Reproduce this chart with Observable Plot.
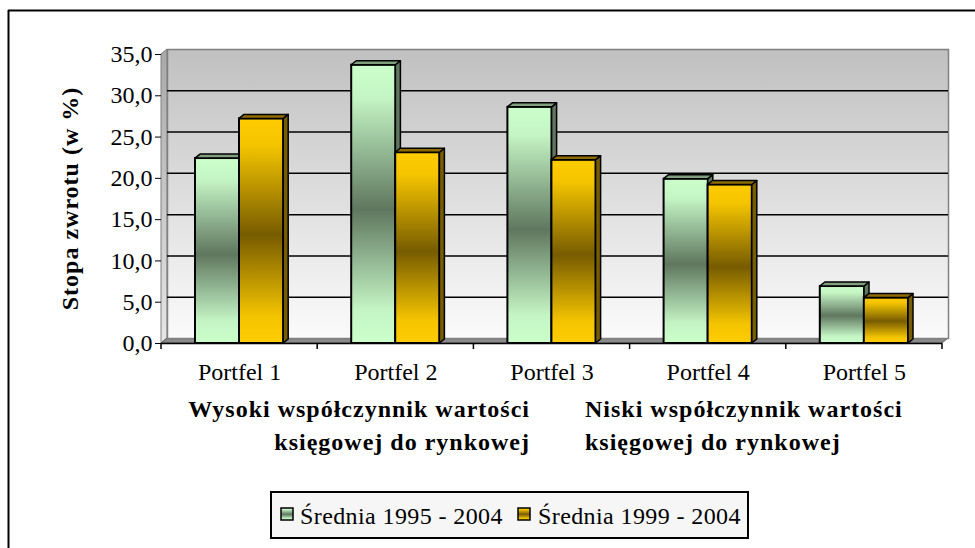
<!DOCTYPE html>
<html>
<head>
<meta charset="utf-8">
<script src="https://cdn.jsdelivr.net/npm/d3@7"></script>
<script src="https://cdn.jsdelivr.net/npm/@observablehq/plot@0.6"></script>
<style>
  html, body { margin: 0; padding: 0; background: white; overflow: hidden; }
  svg { display: block; }
</style>
</head>
<body>
<div id="chart"></div>
<script>
// ---- data ----
const categories = ["Portfel 1", "Portfel 2", "Portfel 3", "Portfel 4", "Portfel 5"];
const seriesNames = ["Średnia 1995 - 2004", "Średnia 1999 - 2004"];
const avg1995_2004 = [22.4, 33.7, 28.6, 19.9, 6.9];
const avg1999_2004 = [27.2, 23.1, 22.2, 19.2, 5.5];
const yTicks = [0, 5, 10, 15, 20, 25, 30, 35];
const yTitle = "Stopa zwrotu (w %)";
const groupLeft = ["Wysoki współczynnik wartości", "księgowej do rynkowej"];
const groupRight = ["Niski współczynnik wartości", "księgowej do rynkowej"];

const green = categories.map((c, i) => ({portfolio: c, series: seriesNames[0], value: avg1995_2004[i]}));
const yellow = categories.map((c, i) => ({portfolio: c, series: seriesNames[1], value: avg1999_2004[i]}));

// ---- layout ----
const W = 975, H = 548;
const mL = 161, mR = 33, mT = 54, mB = 205;
const wallDx = 6, wallDy = 5;   // depth of back wall
const barDx = 5, barDy = 4;     // depth of bars
const FONT = "'Liberation Serif', 'Times New Roman', Times, serif";

const chart = Plot.plot({
  width: W, height: H,
  marginLeft: mL, marginRight: mR, marginTop: mT, marginBottom: mB,
  style: {fontFamily: FONT, fontSize: "24px", color: "black", background: "white", overflow: "visible"},
  x: {domain: categories, padding: 0, round: false, tickSize: 0, tickPadding: 19, label: null},
  y: {domain: [0, 35], ticks: yTicks, tickFormat: d => d.toFixed(1).replace(".", ","),
      tickSize: 6, tickPadding: 3, line: true, label: null},
  marks: [
    Plot.frame({fill: "url(#wallGrad)", stroke: "#808080", strokeWidth: 1.5, dx: wallDx, dy: -wallDy}),
    Plot.ruleY(yTicks.filter(t => t > 0 && t < 35), {dx: wallDx, dy: -wallDy, stroke: "black", strokeWidth: 1.5}),
    Plot.barY(green, {x: "portfolio", y: "value", fill: "url(#greenGrad)", stroke: "black", strokeWidth: 2, insetLeft: 34, insetRight: 78}),
    Plot.barY(yellow, {x: "portfolio", y: "value", fill: "url(#yellowGrad)", stroke: "black", strokeWidth: 2, insetLeft: 78, insetRight: 34}),
    Plot.ruleY([0], {stroke: "black", strokeWidth: 1.5})
  ]
});

document.getElementById("chart").appendChild(chart);
const svg = d3.select(chart);
const ns = "http://www.w3.org/2000/svg";

// gradients
const defs = svg.insert("defs", ":first-child");
function vGrad(id, stops) {
  const g = defs.append("linearGradient").attr("id", id).attr("x1", 0).attr("y1", 0).attr("x2", 0).attr("y2", 1);
  stops.forEach(([o, c]) => g.append("stop").attr("offset", o).attr("stop-color", c));
}
vGrad("wallGrad", [[0, "#c0c0c0"], [1, "#fbfbfb"]]);
vGrad("sideGrad", [[0, "#a8a8a8"], [1, "#e6e6e6"]]);
vGrad("greenGrad", [[0, "#ccffcc"], [0.12, "#c4f4c4"], [0.52, "#5f775f"], [0.88, "#c4f4c4"], [1, "#ccffcc"]]);
vGrad("yellowGrad", [[0, "#ffcc00"], [0.12, "#f4c400"], [0.52, "#775c00"], [0.88, "#f4c400"], [1, "#ffcc00"]]);

const R = W - mR, B = H - mB;

// side wall + floor, just after the back wall
const frameNode = svg.select('[aria-label="frame"]').node();
const room = document.createElementNS(ns, "g");
frameNode.parentNode.insertBefore(room, frameNode.nextSibling);
const roomSel = d3.select(room);
roomSel.append("polygon")
  .attr("points", [[mL, B], [mL, mT], [mL + wallDx, mT - wallDy], [mL + wallDx, B - wallDy]].join(" "))
  .attr("fill", "url(#sideGrad)").attr("stroke", "#808080").attr("stroke-width", 1);
roomSel.append("polygon")
  .attr("points", [[mL, B], [mL + wallDx, B - wallDy], [R + wallDx, B - wallDy], [R, B]].join(" "))
  .attr("fill", "#8a8a8a").attr("stroke", "#606060").attr("stroke-width", 1);

// 3D faces of bars
const faceColors = [
  {top: "#7f9f7f", side: "#5f775f"},
  {top: "#8f6c00", side: "#775c00"}
];
svg.selectAll('g[aria-label="bar"]').each(function(_, gi) {
  const g = d3.select(this);
  const faces = document.createElementNS(ns, "g");
  this.parentNode.insertBefore(faces, this.nextSibling);
  const f = d3.select(faces).attr("transform", g.attr("transform"))
    .attr("stroke", "black").attr("stroke-width", 1.5).attr("stroke-linejoin", "round");
  g.selectAll("rect").each(function() {
    const r = d3.select(this);
    const x = +r.attr("x"), y = +r.attr("y"), w = +r.attr("width"), h = +r.attr("height");
    f.append("polygon").attr("fill", faceColors[gi].side)
      .attr("points", [[x + w, y], [x + w + barDx, y - barDy], [x + w + barDx, y + h - barDy], [x + w, y + h]].join(" "));
    f.append("polygon").attr("fill", faceColors[gi].top)
      .attr("points", [[x, y], [x + barDx, y - barDy], [x + w + barDx, y - barDy], [x + w, y]].join(" "));
  });
});

// category boundary ticks on the x axis
const step = (R - mL) / categories.length;
const xt = svg.append("g").attr("stroke", "black").attr("stroke-width", 1.5);
d3.range(categories.length + 1).forEach(i => {
  const x = mL + i * step;
  xt.append("line").attr("x1", x).attr("x2", x).attr("y1", B).attr("y2", B + 6);
});

// y-axis title
svg.append("text")
  .attr("transform", `translate(78,${(mT + B) / 2}) rotate(-90)`)
  .attr("text-anchor", "middle").attr("font-weight", "bold").attr("font-size", 24)
  .style("letter-spacing", "1px").text(yTitle);

// group captions
const gl = svg.append("g").attr("font-weight", "bold").attr("font-size", 24).style("letter-spacing", "1px");
groupLeft.forEach((t, i) => gl.append("text").attr("x", 530).attr("y", 417 + i * 33).attr("text-anchor", "end").text(t));
groupRight.forEach((t, i) => gl.append("text").attr("x", 585).attr("y", 417 + i * 33).attr("text-anchor", "start").text(t));

// legend
const lg = svg.append("g").attr("text-anchor", "start");
lg.append("rect").attr("x", 271).attr("y", 492).attr("width", 477).attr("height", 46)
  .attr("fill", "#f6f6f6").attr("stroke", "black").attr("stroke-width", 2);
const legendItems = [
  {name: seriesNames[0], fill: "url(#greenGrad)", sx: 281, tx: 300},
  {name: seriesNames[1], fill: "url(#yellowGrad)", sx: 518, tx: 538}
];
legendItems.forEach(it => {
  lg.append("rect").attr("x", it.sx).attr("y", 508).attr("width", 12).attr("height", 12)
    .attr("fill", it.fill).attr("stroke", "black").attr("stroke-width", 1.5);
  lg.append("text").attr("x", it.tx).attr("y", 524).attr("text-anchor", "start")
    .attr("font-size", 24).style("letter-spacing", "0.4px").text(it.name);
});

// outer border (top + left only)
const ob = svg.append("g").attr("stroke", "black").attr("stroke-width", 2);
ob.append("line").attr("x1", 8.5).attr("y1", 10).attr("x2", 8.5).attr("y2", H);
ob.append("line").attr("x1", 8).attr("y1", 10.5).attr("x2", W).attr("y2", 10.5);
</script>
</body>
</html>
